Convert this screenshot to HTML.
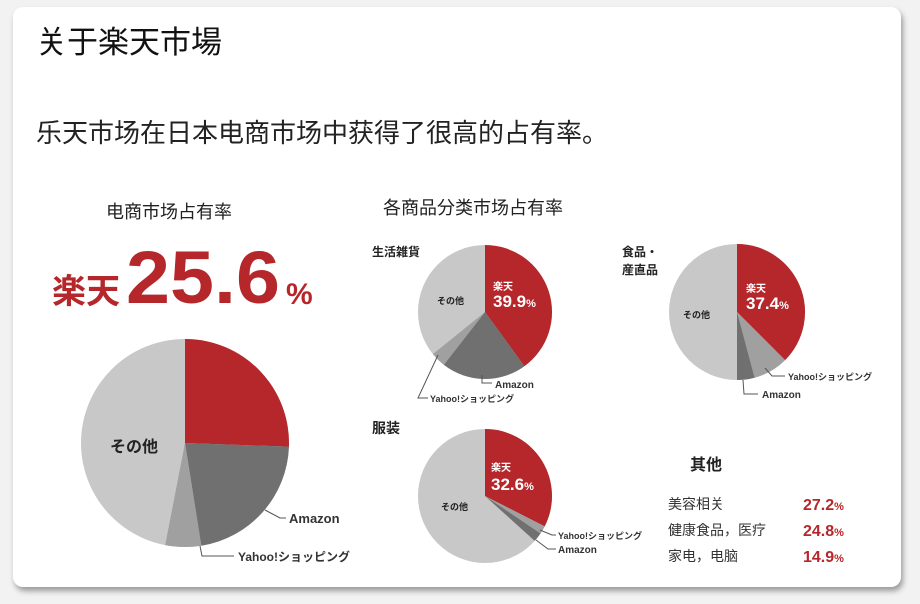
<!DOCTYPE html>
<html><head><meta charset="utf-8"><style>
body{margin:0;background:#eeeeee;width:920px;height:604px;overflow:hidden}
svg{display:block}
text{font-family:"Liberation Sans","Noto Sans CJK JP",sans-serif}
</style></head><body>
<svg width="920" height="604" viewBox="0 0 920 604">
<defs><filter id="sh" x="-5%" y="-5%" width="110%" height="110%"><feGaussianBlur stdDeviation="3"/></filter></defs>
<rect x="0" y="0" width="920" height="604" fill="#f2f2f2"/>
<rect x="15" y="11" width="888" height="580" rx="10" fill="#9a9a9a" filter="url(#sh)"/>
<rect x="13" y="7" width="888" height="580" rx="10" fill="#fff"/>
<text x="36" y="53" font-size="31" fill="#111" font-family="Noto Sans CJK SC">关于楽天市場</text>
<text x="36" y="142" font-size="26" fill="#222" font-family="Noto Sans CJK SC">乐天市场在日本电商市场中获得了很高的占有率。</text>
<text x="106" y="218" font-size="18" fill="#222" font-family="Noto Sans CJK SC">电商市场占有率</text>
<text x="52" y="303" font-size="34" font-weight="bold" fill="#b5272a" font-family="Noto Sans CJK JP">楽天</text>
<text x="126" y="303" font-size="74" font-weight="bold" fill="#b5272a" textLength="154" lengthAdjust="spacingAndGlyphs">25.6</text>
<text x="286" y="304" font-size="30" font-weight="bold" fill="#b5272a">%</text>
<g transform="translate(185,443)">
<circle r="104" fill="#c8c8c8"/>
<path d="M0,0L0,-104A104,104 0 0 1 103.94,3.63Z" fill="#b5272a"/>
<path d="M0,0L103.94,3.63A104,104 0 0 1 16.3,102.7Z" fill="#707070"/>
<path d="M0,0L16.3,102.7A104,104 0 0 1 -19.8,102.1Z" fill="#a0a0a0"/>
</g>
<text x="110" y="452" font-size="16" font-weight="bold" fill="#222" font-family="Noto Sans CJK JP">その他</text>
<polyline points="265,510 280,518 286,518" fill="none" stroke="#555" stroke-width="1"/>
<text x="289" y="523" font-size="13" font-weight="bold" fill="#333">Amazon</text>
<polyline points="200,546 202,556 234,556" fill="none" stroke="#555" stroke-width="1"/>
<text x="238" y="561" font-size="12" font-weight="bold" fill="#333" font-family="Noto Sans CJK JP">Yahoo!ショッピング</text>

<text x="383" y="214" font-size="18" fill="#222" font-family="Noto Sans CJK SC">各商品分类市场占有率</text>
<text x="372" y="256" font-size="12" font-weight="bold" fill="#222" font-family="Noto Sans CJK JP">生活雑貨</text>
<g transform="translate(485,312)">
<circle r="67" fill="#c8c8c8"/>
<path d="M0,0L0,-67A67,67 0 0 1 39.4,54.2Z" fill="#b5272a"/>
<path d="M0,0L39.4,54.2A67,67 0 0 1 -41.2,52.8Z" fill="#707070"/>
<path d="M0,0L-41.2,52.8A67,67 0 0 1 -52.1,42.1Z" fill="#a0a0a0"/>
</g>
<text x="493" y="290" font-size="10" font-weight="bold" fill="#fff" font-family="Noto Sans CJK JP">楽天</text>
<text x="493" y="307" font-size="17" font-weight="bold" fill="#fff">39.9<tspan font-size="11">%</tspan></text>
<text x="437" y="304" font-size="9" font-weight="bold" fill="#222" font-family="Noto Sans CJK JP">その他</text>
<polyline points="482,375 482,383 492,383" fill="none" stroke="#555"/>
<text x="495" y="388" font-size="10" font-weight="bold" fill="#333">Amazon</text>
<polyline points="438,355 418,398 428,398" fill="none" stroke="#555"/>
<text x="430" y="402" font-size="9" font-weight="bold" fill="#333" font-family="Noto Sans CJK JP">Yahoo!ショッピング</text>
<text x="622" y="256" font-size="12" font-weight="bold" fill="#222" font-family="Noto Sans CJK JP">食品・</text>
<text x="622" y="274" font-size="12" font-weight="bold" fill="#222" font-family="Noto Sans CJK JP">産直品</text>
<g transform="translate(737,312)">
<circle r="68" fill="#c8c8c8"/>
<path d="M0,0L0,-68A68,68 0 0 1 48.1,48.1Z" fill="#b5272a"/>
<path d="M0,0L48.1,48.1A68,68 0 0 1 17.6,65.7Z" fill="#a0a0a0"/>
<path d="M0,0L17.6,65.7A68,68 0 0 1 0,68Z" fill="#707070"/>
</g>
<text x="746" y="292" font-size="10" font-weight="bold" fill="#fff" font-family="Noto Sans CJK JP">楽天</text>
<text x="746" y="309" font-size="17" font-weight="bold" fill="#fff">37.4<tspan font-size="11">%</tspan></text>
<text x="683" y="318" font-size="9" font-weight="bold" fill="#222" font-family="Noto Sans CJK JP">その他</text>
<polyline points="765,368 772,376 785,376" fill="none" stroke="#555"/>
<text x="788" y="380" font-size="9" font-weight="bold" fill="#333" font-family="Noto Sans CJK JP">Yahoo!ショッピング</text>
<polyline points="743,380 744,394 758,394" fill="none" stroke="#555"/>
<text x="762" y="398" font-size="10" font-weight="bold" fill="#333">Amazon</text>
<text x="372" y="433" font-size="14" font-weight="bold" fill="#222" font-family="Noto Sans CJK JP">服装</text>
<g transform="translate(485,496)">
<circle r="67" fill="#c8c8c8"/>
<path d="M0,0L0,-67A67,67 0 0 1 59.7,30.4Z" fill="#b5272a"/>
<path d="M0,0L59.7,30.4A67,67 0 0 1 55.5,37.5Z" fill="#a0a0a0"/>
<path d="M0,0L55.5,37.5A67,67 0 0 1 49.7,44.9Z" fill="#707070"/>
</g>
<text x="491" y="471" font-size="10" font-weight="bold" fill="#fff" font-family="Noto Sans CJK JP">楽天</text>
<text x="491" y="490" font-size="17" font-weight="bold" fill="#fff">32.6<tspan font-size="11">%</tspan></text>
<text x="441" y="510" font-size="9" font-weight="bold" fill="#222" font-family="Noto Sans CJK JP">その他</text>
<polyline points="540,530 552,535 556,535" fill="none" stroke="#555"/>
<text x="558" y="539" font-size="9" font-weight="bold" fill="#333" font-family="Noto Sans CJK JP">Yahoo!ショッピング</text>
<polyline points="536,540 548,549 556,549" fill="none" stroke="#555"/>
<text x="558" y="553" font-size="10" font-weight="bold" fill="#333">Amazon</text>

<text x="690" y="470" font-size="16" font-weight="bold" fill="#222" font-family="Noto Sans CJK SC">其他</text>
<text x="668" y="509" font-size="14" fill="#333" font-family="Noto Sans CJK SC">美容相关</text>
<text x="668" y="535" font-size="14" fill="#333" font-family="Noto Sans CJK SC">健康食品，医疗</text>
<text x="668" y="561" font-size="14" fill="#333" font-family="Noto Sans CJK SC">家电，电脑</text>
<g font-weight="bold" fill="#b5272a" font-size="16">
<text x="803" y="510">27.2<tspan font-size="11">%</tspan></text>
<text x="803" y="536">24.8<tspan font-size="11">%</tspan></text>
<text x="803" y="562">14.9<tspan font-size="11">%</tspan></text>
</g>
</svg>
</body></html>
